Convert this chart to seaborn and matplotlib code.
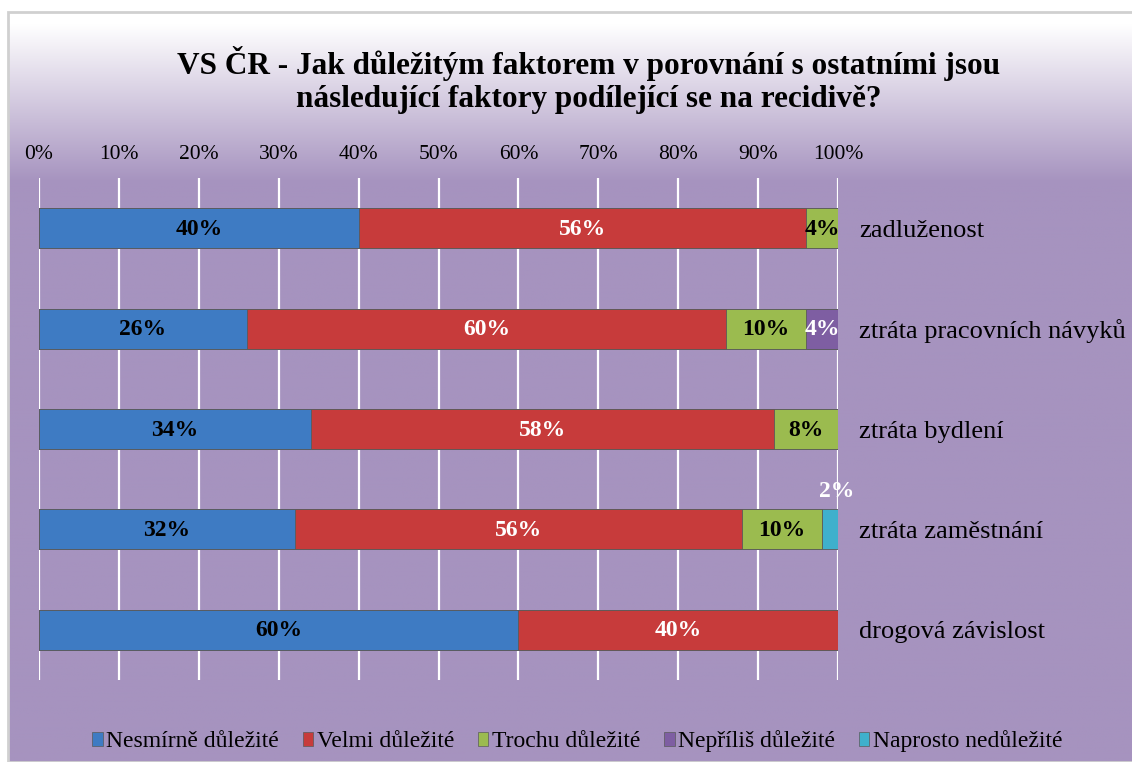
import numpy as np
import pandas as pd
import matplotlib
matplotlib.use("Agg")
import matplotlib.pyplot as plt
import seaborn as sns
from matplotlib.patches import Rectangle, Patch

# data
faktory = ["zadluženost", "ztráta pracovních návyků", "ztráta bydlení",
           "ztráta zaměstnání", "drogová závislost"]
kategorie = ["Nesmírně důležité", "Velmi důležité", "Trochu důležité",
             "Nepříliš důležité", "Naprosto nedůležité"]
nesmirne = [40, 26, 34, 32, 60]
velmi = [56, 60, 58, 56, 40]
trochu = [4, 10, 8, 10, 0]
nepriliss = [0, 4, 0, 0, 0]
naprosto = [0, 0, 0, 2, 0]
tick_labels = ["0%", "10%", "20%", "30%", "40%", "50%", "60%", "70%", "80%", "90%", "100%"]

barvy = ["#3E7BC3", "#C73B3B", "#9BBB4F", "#7E5EA2", "#3FB0CC"]
barvy_text = ["black", "white", "black", "white", "white"]

sns.set_theme(style="white")
plt.rcParams["font.family"] = ["Liberation Serif", "DejaVu Serif"]
plt.rcParams["text.color"] = "black"

df = pd.DataFrame({"faktor": faktory, kategorie[0]: nesmirne, kategorie[1]: velmi,
                   kategorie[2]: trochu, kategorie[3]: nepriliss, kategorie[4]: naprosto})
kum = df[kategorie].cumsum(axis=1)

fig = plt.figure(figsize=(11.32, 7.62), dpi=100)

# pozadi s prechodem
bg = fig.add_axes([0, 0, 1, 1], zorder=-10)
bg.set_axis_off()
h = 762
t = np.clip((np.arange(h) - 12) / 160.0, 0, 1)
c_top = np.array([1.0, 1.0, 1.0])
c_bot = np.array([166, 147, 191]) / 255.0
grad = c_top[None, :] * (1 - t[:, None]) + c_bot[None, :] * t[:, None]
img = np.repeat(grad[:, None, :], 10, axis=1)
bg.imshow(img, aspect="auto", extent=[8 / 1132, 1, 0, 1 - 12 / 762])
bg.set_xlim(0, 1)
bg.set_ylim(0, 1)
bg.add_patch(Rectangle((8 / 1132, 0), 1, 1 - 12 / 762, fill=False,
                       edgecolor="#D0D0D0", linewidth=2))

ax = fig.add_axes([39 / 1132, 1 - 680 / 762, (838 - 39) / 1132, (680 - 178) / 762])
ax.set_facecolor("none")

# stacked bars - od nejdelsiho kumulativniho souctu
for i in range(len(kategorie) - 1, -1, -1):
    sns.barplot(x=kum[kategorie[i]].values, y=df["faktor"], orient="h", color=barvy[i],
                width=0.4, ax=ax, edgecolor="#5a5a5a", linewidth=0.6, saturation=1)

# popisky
for i, k in enumerate(kategorie):
    for j, f in enumerate(faktory):
        v = df[k].iloc[j]
        if v <= 0:
            continue
        start = kum[k].iloc[j] - v
        if k == "Naprosto nedůležité":
            ax.text(start + v / 2 + 0.8, j - 0.38, f"{v}%", ha="center", va="center",
                    color="white", fontsize=17, fontweight="bold")
        else:
            ax.text(start + v / 2, j + 0.01, f"{v}%", ha="center", va="center",
                    color=barvy_text[i], fontsize=17, fontweight="bold")

ax.set_xlim(0, 100)
ax.set_ylim(4.5, -0.5)
ax.set_xticks(np.arange(0, 101, 10))
ax.set_xticklabels(tick_labels)
ax.xaxis.tick_top()
ax.tick_params(axis="x", labelsize=15.5, pad=10, length=0, colors="black")
ax.yaxis.tick_right()
ax.tick_params(axis="y", labelsize=19, pad=15, length=0, colors="black")
ax.set_xlabel("")
ax.set_ylabel("")
ax.grid(axis="x", color="white", linewidth=1.6, zorder=0)
ax.set_axisbelow(True)
for s in ax.spines.values():
    s.set_visible(False)

fig.text(0.52, 0.895, "VS ČR - Jak důležitým faktorem v porovnání s ostatními jsou\n"
         "následující faktory podílející se na recidivě?", ha="center", va="center",
         fontsize=22.5, fontweight="bold", linespacing=1.2, color="black")

handles = [Patch(facecolor=c, edgecolor="#5a5a5a", linewidth=0.5) for c in barvy]
fig.legend(handles, kategorie, loc="center", bbox_to_anchor=(0.51, 0.027), ncol=5,
           frameon=False, fontsize=17, handlelength=0.45, handleheight=0.55,
           handletextpad=0.15, columnspacing=1.0)

fig.savefig("out.png", dpi=100)
